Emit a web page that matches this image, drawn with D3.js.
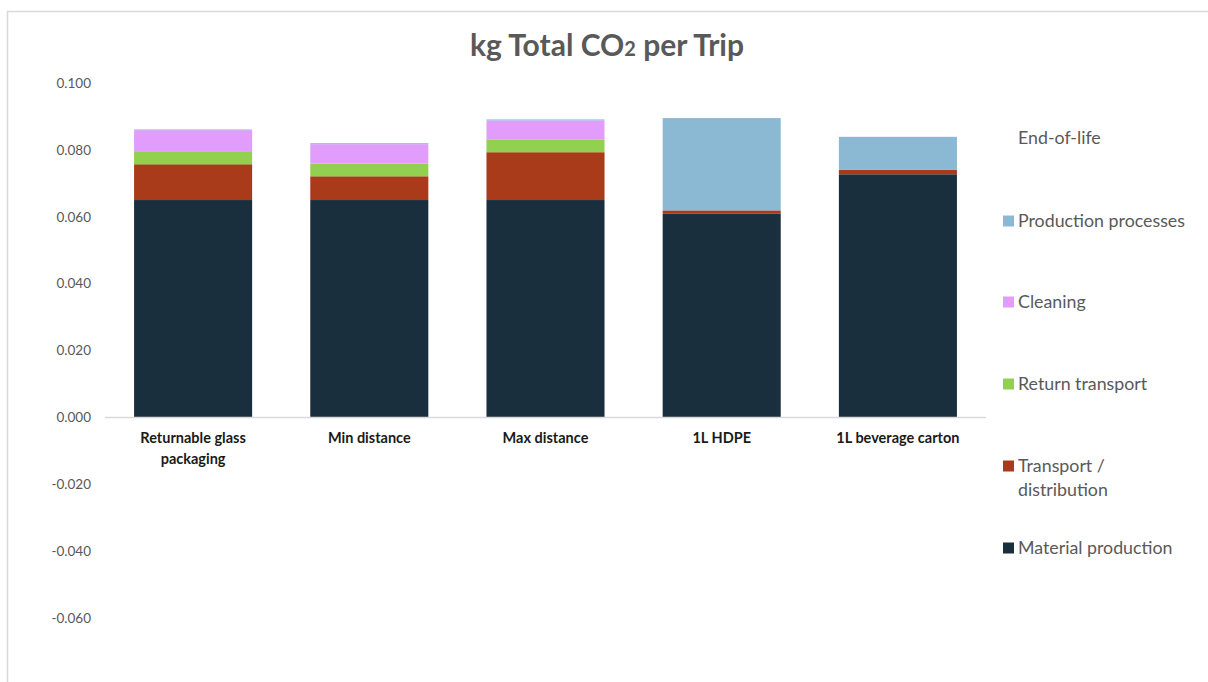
<!DOCTYPE html>
<html>
<head>
<meta charset="utf-8">
<script src="https://cdn.jsdelivr.net/npm/d3@7"></script>
<style>
  html, body { margin: 0; padding: 0; background: #fff; }
  svg { display: block; }
</style>
</head>
<body>
<svg id="chart" width="1208" height="682"></svg>
<script>
// Packaging options compared
const categories = ["Returnable glass packaging", "Min distance", "Max distance", "1L HDPE", "1L beverage carton"];
const categoryLines = [["Returnable glass", "packaging"], ["Min distance"], ["Max distance"], ["1L HDPE"], ["1L beverage carton"]];

// kg CO2 per trip, by life-cycle stage (stack order bottom to top)
const materialProduction = [0.0650, 0.0650, 0.0650, 0.0610, 0.0727];
const transportDistribution = [0.0107, 0.0071, 0.0143, 0.0009, 0.0014];
const returnTransport = [0.0039, 0.0038, 0.0037, 0, 0];
const cleaning = [0.0063, 0.0058, 0.0058, 0, 0];
const productionProcesses = [0.0002, 0.0003, 0.0003, 0.0276, 0.0098];
const endOfLife = [0, 0, 0, 0, 0];

const seriesNames = ["Material production", "Transport / distribution", "Return transport", "Cleaning", "Production processes", "End-of-life"];
const seriesLegendLines = [["Material production"], ["Transport /", "distribution"], ["Return transport"], ["Cleaning"], ["Production processes"], ["End-of-life"]];
const seriesValues = [materialProduction, transportDistribution, returnTransport, cleaning, productionProcesses, endOfLife];
const seriesColors = ["#1a2f3e", "#a93b1a", "#92d050", "#e29dfc", "#8bb9d4", "none"];

const yTicks = [-0.06, -0.04, -0.02, 0, 0.02, 0.04, 0.06, 0.08, 0.10];

const svg = d3.select("#chart");
const font = "Lato, 'Open Sans', sans-serif";
const textColor = "#595959";

// chart frame
svg.append("rect")
  .attr("x", 7.5).attr("y", 11.5)
  .attr("width", 1208).attr("height", 690)
  .attr("fill", "none").attr("stroke", "#d9d9d9").attr("stroke-width", 1.5);

// title
const title = svg.append("text")
  .attr("x", 607).attr("y", 56)
  .attr("text-anchor", "middle")
  .attr("font-family", font).attr("font-weight", "bold")
  .attr("font-size", 30).attr("fill", textColor);
title.append("tspan").text("kg Total CO");
title.append("tspan").attr("font-size", 20).text("2");
title.append("tspan").text(" per Trip");

const x = d3.scaleBand().domain(categories).range([105, 986]).paddingInner(0.33).paddingOuter(0.165);
const y = d3.scaleLinear().domain([-0.06, 0.10]).range([618, 83]);

// y axis labels (plain hyphen for negatives)
const fmt = d3.format(".3f");
const yAxis = d3.axisLeft(y).tickValues(yTicks)
  .tickFormat(d => fmt(d).replace("\u2212", "-"))
  .tickSize(0).tickPadding(0);
const yg = svg.append("g").attr("transform", "translate(91,0)").call(yAxis);
yg.select(".domain").remove();
yg.selectAll("text").attr("font-family", font).attr("font-size", 13.5).attr("fill", textColor);

// stacked bars
const rows = categories.map((c, i) => {
  const r = { category: c };
  seriesNames.forEach((s, j) => { r[s] = seriesValues[j][i]; });
  return r;
});
const stacked = d3.stack().keys(seriesNames)(rows);

svg.append("g").selectAll("g")
  .data(stacked)
  .join("g")
  .attr("fill", (d, i) => seriesColors[i])
  .selectAll("rect")
  .data(d => d)
  .join("rect")
  .attr("x", d => x(d.data.category))
  .attr("width", x.bandwidth())
  .attr("y", d => y(d[1]))
  .attr("height", d => Math.max(0, y(d[0]) - y(d[1])));

// zero line
svg.append("line")
  .attr("x1", 105).attr("x2", 986)
  .attr("y1", y(0)).attr("y2", y(0))
  .attr("stroke", "#d9d9d9").attr("stroke-width", 1.5);

// category labels
const xl = svg.append("g");
categories.forEach((c, i) => {
  const t = xl.append("text")
    .attr("x", x(c) + x.bandwidth() / 2).attr("y", y(0) + 26)
    .attr("text-anchor", "middle")
    .attr("font-family", font).attr("font-weight", "bold")
    .attr("font-size", 14.5).attr("fill", "#1a1a1a");
  categoryLines[i].forEach((line, k) => {
    t.append("tspan").attr("x", x(c) + x.bandwidth() / 2).attr("dy", k === 0 ? 0 : 21).text(line);
  });
});

// legend, top entry is the last series
const legendY = [548, 466, 384, 302, 221, 138];
const legend = svg.append("g");
seriesNames.forEach((s, i) => {
  const g = legend.append("g").attr("transform", `translate(1003,${legendY[i]})`);
  if (seriesColors[i] !== "none") {
    g.append("rect").attr("x", 0).attr("y", -5.5).attr("width", 11).attr("height", 11).attr("fill", seriesColors[i]);
  }
  const t = g.append("text").attr("x", 15).attr("y", 6)
    .attr("font-family", font).attr("font-size", 17.8).attr("fill", textColor);
  seriesLegendLines[i].forEach((line, k) => {
    t.append("tspan").attr("x", 15).attr("dy", k === 0 ? 0 : 24).text(line);
  });
});
</script>
</body>
</html>
